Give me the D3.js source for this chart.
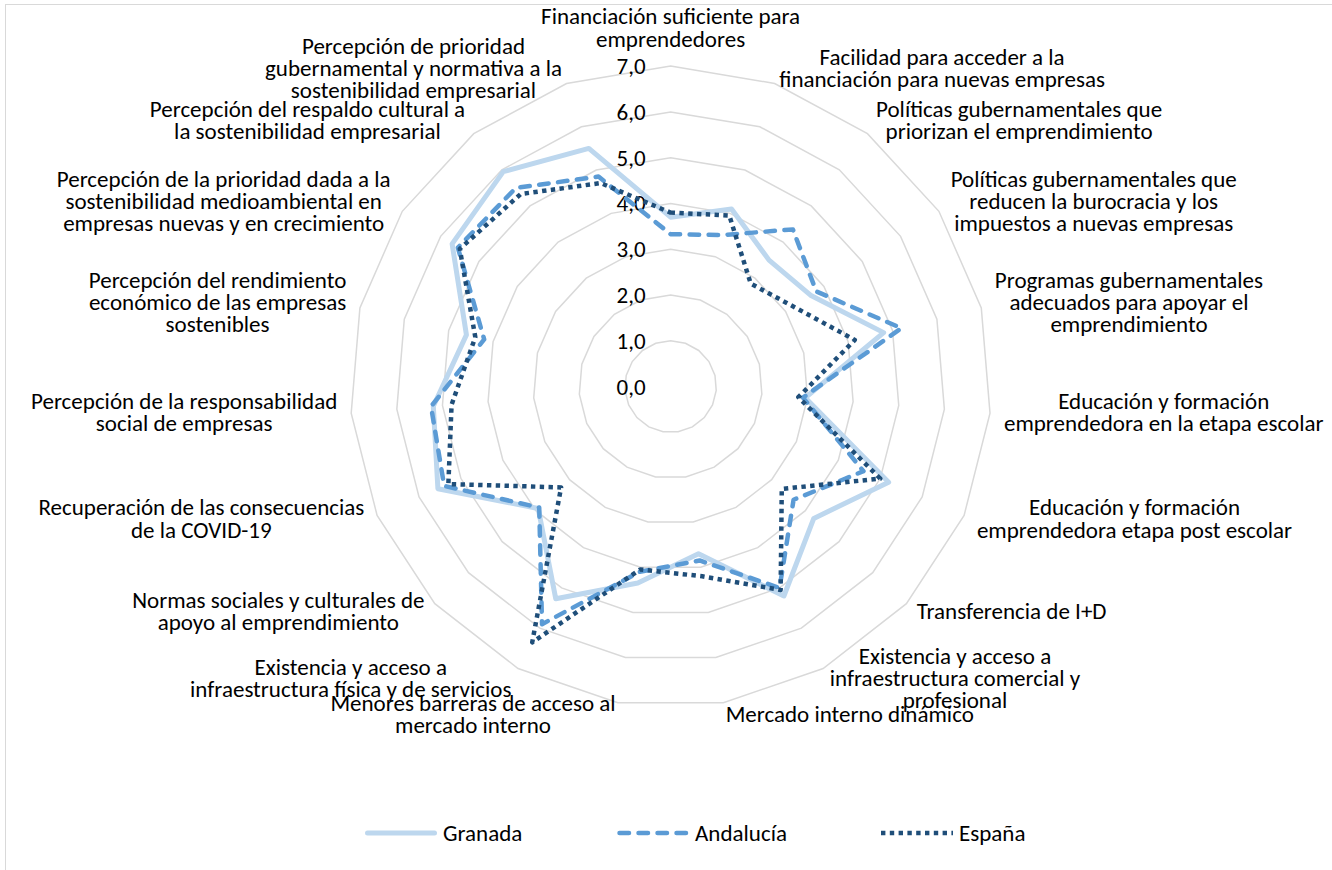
<!DOCTYPE html>
<html>
<head>
<meta charset="utf-8">
<script src="https://cdn.jsdelivr.net/npm/d3@7/dist/d3.min.js"></script>
<style>
  html, body { margin: 0; padding: 0; background: #fff; }
  svg { display: block; }
</style>
</head>
<body>
<svg id="chart" width="1332" height="870"></svg>
<script>
// ---------------- DATA ----------------
const categories = [
  "Financiación suficiente para\nemprendedores",
  "Facilidad para acceder a la\nfinanciación para nuevas empresas",
  "Políticas gubernamentales que\npriorizan el emprendimiento",
  "Políticas gubernamentales que\nreducen la burocracia y los\nimpuestos a nuevas empresas",
  "Programas gubernamentales\nadecuados para apoyar el\nemprendimiento",
  "Educación y formación\nemprendedora en la etapa escolar",
  "Educación y formación\nemprendedora etapa post escolar",
  "Transferencia de I+D",
  "Existencia y acceso a\ninfraestructura comercial y\nprofesional",
  "Mercado interno dinámico",
  "Menores barreras de acceso al\nmercado interno",
  "Existencia y acceso a\ninfraestructura física y de servicios",
  "Normas sociales y culturales de\napoyo al emprendimiento",
  "Recuperación de las consecuencias\nde la COVID-19",
  "Percepción de la responsabilidad\nsocial de empresas",
  "Percepción del rendimiento\neconómico de las empresas\nsostenibles",
  "Percepción de la prioridad dada a la\nsostenibilidad medioambiental en\nempresas nuevas y en crecimiento",
  "Percepción del respaldo cultural a\nla sostenibilidad empresarial",
  "Percepción de prioridad\ngubernamental  y normativa a la\nsostenibilidad empresarial"
];
const seriesNames = ["Granada", "Andalucía", "España"];
const granada   = [3.70, 4.10, 3.50, 3.65, 4.80, 2.95, 5.20, 4.25, 5.20, 3.70, 4.35, 5.27, 3.93, 5.55, 5.20, 4.60, 5.70, 5.95, 5.50];
const andalucia = [3.33, 3.50, 4.35, 3.80, 5.20, 2.90, 4.60, 3.65, 5.00, 3.85, 4.10, 5.90, 3.90, 5.40, 5.25, 4.20, 5.55, 5.50, 4.85];
const espana    = [3.80, 3.95, 2.85, 3.20, 4.15, 2.80, 5.00, 3.30, 5.05, 4.20, 4.05, 6.35, 3.25, 5.30, 4.80, 4.40, 5.50, 5.33, 4.70];
const tickValues = [0, 1, 2, 3, 4, 5, 6, 7];
const tickLabels = ["0,0", "1,0", "2,0", "3,0", "4,0", "5,0", "6,0", "7,0"];

// ---------------- LAYOUT / STYLE ----------------
const FONT = "Carlito, Calibri, Lato, 'Open Sans', sans-serif";
const cx = 670.6, cy = 386.6, R = 320.5;
const N = categories.length;
const step = 2 * Math.PI / N;
const svg = d3.select("#chart");

// fit font size to Calibri metrics (reference string width ~245px)
const probe = svg.append("text").style("font-family", FONT).style("font-size", "18.67px").text("Facilidad para acceder a la");
const pw = probe.node().getComputedTextLength();
probe.remove();
const fs = 18.67 * 245 / pw;
const lh = 22.2;

// frame
svg.append("rect").attr("x", 5.5).attr("y", 4.5).attr("width", 1400).attr("height", 1000)
  .attr("fill", "none").attr("stroke", "#d9d9d9").attr("stroke-width", 1);

const r = d3.scaleLinear().domain([0, 7]).range([0, R]);
const g = svg.append("g").attr("transform", `translate(${cx},${cy})`);

// grid rings
const ring = d3.lineRadial().angle((d, i) => i * step).radius(d => r(d)).curve(d3.curveLinearClosed);
tickValues.filter(v => v > 0).forEach(v => {
  g.append("path").attr("d", ring(d3.range(N).map(() => v)))
    .attr("fill", "none").attr("stroke", "#d9d9d9").attr("stroke-width", 1.5);
});

// tick labels
g.selectAll("text.tick").data(tickValues).join("text")
  .attr("class", "tick")
  .attr("x", -25).attr("y", d => -r(d))
  .attr("text-anchor", "end").attr("dominant-baseline", "central")
  .style("font-family", FONT).style("font-size", fs + "px").attr("fill", "#000")
  .text((d, i) => tickLabels[i]);

// series
const styles = [
  { data: granada,   color: "#BDD7EE", width: 5,   dash: null,   cap: "round" },
  { data: andalucia, color: "#5B9BD5", width: 4.5, dash: "9.5,9.5", cap: "round" },
  { data: espana,    color: "#1F4E79", width: 4.5, dash: "4.4,4.4", cap: "butt" }
];
const line = d3.lineRadial().angle((d, i) => i * step).radius(d => r(d)).curve(d3.curveLinearClosed);
styles.forEach(s => {
  g.append("path").attr("d", line(s.data))
    .attr("fill", "none").attr("stroke", s.color).attr("stroke-width", s.width)
    .attr("stroke-linejoin", "round").attr("stroke-linecap", s.cap)
    .attr("stroke-dasharray", s.dash);
});

// category labels
const pad = 14;
categories.forEach((lab, i) => {
  const a = i * step;
  const sx = Math.sin(a), cyv = -Math.cos(a);
  const px = (R + pad) * sx, py = (R + pad) * cyv - 2.5;
  const lines = lab.split("\n");
  const t = g.append("text").style("font-family", FONT).style("font-size", fs + "px").attr("fill", "#000")
    .attr("text-anchor", "middle").attr("dominant-baseline", "central");
  const spans = lines.map(l => t.append("tspan").text(l));
  const w = d3.max(spans, s => s.node().getComputedTextLength());
  let bx;
  if (Math.abs(sx) < 1e-6) bx = px;
  else if (sx > 0) bx = px + w / 2;
  else bx = px - w / 2;
  const n = lines.length;
  let byc;
  if (i === 0) byc = py - (n * lh) / 2; // top: bottom-aligned
  else byc = py;
  spans.forEach((s, j) => {
    s.attr("x", bx).attr("y", byc + (j - (n - 1) / 2) * lh);
  });
});

// legend
const legY = 833;
const legStarts = [365, 617, 881];
styles.forEach((s, i) => {
  const x0 = legStarts[i];
  svg.append("line").attr("x1", x0 + (s.cap === "round" ? 2.5 : 0)).attr("x2", x0 + 72 - (s.cap === "round" ? 2.5 : 0))
    .attr("y1", legY).attr("y2", legY)
    .attr("stroke", s.color).attr("stroke-width", s.width)
    .attr("stroke-linecap", s.cap).attr("stroke-dasharray", s.dash);
  svg.append("text").attr("x", x0 + 78).attr("y", legY).attr("dominant-baseline", "central")
    .style("font-family", FONT).style("font-size", fs + "px").attr("fill", "#000")
    .text(seriesNames[i]);
});
</script>
</body>
</html>
